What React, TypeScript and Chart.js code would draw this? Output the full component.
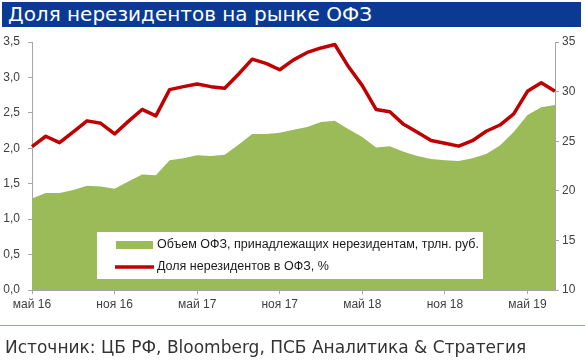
import React, { useEffect, useRef } from "react";
import { Chart, registerables } from "chart.js";

Chart.register(...registerables);

const categories = [
  "май 16", "июн 16", "июл 16", "авг 16", "сен 16", "окт 16",
  "ноя 16", "дек 16", "янв 17", "фев 17", "мар 17", "апр 17",
  "май 17", "июн 17", "июл 17", "авг 17", "сен 17", "окт 17",
  "ноя 17", "дек 17", "янв 18", "фев 18", "мар 18", "апр 18",
  "май 18", "июн 18", "июл 18", "авг 18", "сен 18", "окт 18",
  "ноя 18", "дек 18", "янв 19", "фев 19", "мар 19", "апр 19",
  "май 19", "июн 19", "июл 19",
];

const volumeTrln = [
  1.29, 1.37, 1.37, 1.41, 1.47, 1.46, 1.43, 1.53, 1.63, 1.62,
  1.83, 1.86, 1.90, 1.89, 1.91, 2.05, 2.20, 2.20, 2.22, 2.26,
  2.30, 2.37, 2.39, 2.27, 2.16, 2.01, 2.03, 1.95, 1.89, 1.85,
  1.83, 1.82, 1.86, 1.92, 2.04, 2.23, 2.47, 2.58, 2.61,
];

const sharePct = [
  24.45, 25.5, 24.85, 25.95, 27.05, 26.8, 25.73, 27.0, 28.2, 27.55,
  30.2, 30.5, 30.77, 30.5, 30.33, 31.75, 33.27, 32.85, 32.2, 33.2,
  33.95, 34.4, 34.75, 32.5, 30.6, 28.2, 27.97, 26.7, 25.9, 25.07,
  24.8, 24.5, 25.05, 26.0, 26.63, 27.75, 30.03, 30.9, 30.03,
];

const volumeLabel = "Объем ОФЗ, принадлежащих нерезидентам, трлн. руб.";
const shareLabel = "Доля нерезидентов в ОФЗ, %";
const titleText = "Доля нерезидентов на рынке ОФЗ";
const sourceText = "Источник: ЦБ РФ, Bloomberg, ПСБ Аналитика & Стратегия";

const GREEN = "#9BBB59";
const RED = "#C00000";
const AXIS = "#A6A6A6";
const TICK_TEXT = "#404040";
const FONT = "'Liberation Sans', Arial, sans-serif";

const legendPlugin = {
  id: "boxLegend",
  afterDatasetsDraw(chart: any) {
    const { ctx, chartArea } = chart;
    const x = chartArea.left + 65;
    const y = chartArea.top + 190;
    const w = 386;
    const h = 47;
    ctx.save();
    ctx.fillStyle = "#FFFFFF";
    ctx.fillRect(x, y, w, h);
    const ds = chart.data.datasets;
    const entries = [ds[1], ds[0]];
    ctx.font = "12.5px " + FONT;
    ctx.textBaseline = "middle";
    entries.forEach((d: any, i: number) => {
      const cy = y + 13 + i * 22;
      if (d.fill) {
        ctx.fillStyle = d.backgroundColor;
        ctx.fillRect(x + 19, cy - 4, 37, 8);
      } else {
        ctx.strokeStyle = d.borderColor;
        ctx.lineWidth = 3.5;
        ctx.beginPath();
        ctx.moveTo(x + 18, cy);
        ctx.lineTo(x + 57, cy);
        ctx.stroke();
      }
      ctx.fillStyle = "#1a1a1a";
      ctx.fillText(d.label, x + 60, cy);
    });
    ctx.restore();
  },
};

export default function App() {
  const ref = useRef<HTMLCanvasElement | null>(null);

  useEffect(() => {
    if (!ref.current) return;
    const chart = new Chart(ref.current, {
      type: "line",
      data: {
        labels: categories,
        datasets: [
          {
            label: shareLabel,
            data: sharePct,
            yAxisID: "y2",
            borderColor: RED,
            borderWidth: 3.5,
            pointRadius: 0,
            tension: 0,
            fill: false,
            order: 0,
            borderJoinStyle: "round",
          },
          {
            label: volumeLabel,
            data: volumeTrln,
            yAxisID: "y",
            backgroundColor: GREEN,
            borderColor: GREEN,
            borderWidth: 0,
            pointRadius: 0,
            tension: 0,
            fill: "origin",
            order: 1,
          },
        ],
      },
      options: {
        responsive: false,
        animation: false,
        layout: { padding: { top: 42, bottom: 41, left: 0, right: 0 } },
        plugins: {
          legend: { display: false },
          tooltip: { enabled: false },
          title: { display: false },
        },
        scales: {
          x: {
            type: "category",
            offset: false,
            grid: {
              offset: false,
              drawOnChartArea: false,
              drawTicks: true,
              tickLength: 4,
              color: AXIS,
            },
            border: { display: true, color: AXIS, width: 1 },
            ticks: {
              autoSkip: false,
              maxRotation: 0,
              padding: 3,
              color: TICK_TEXT,
              font: { family: FONT, size: 12 },
              callback: (_v: any, i: number) => (i % 6 === 0 ? categories[i] : null),
            },
            afterFit: (s: any) => {
              s.height = 30;
            },
          },
          y: {
            position: "left",
            min: 0,
            max: 3.5,
            grid: {
              drawOnChartArea: false,
              drawTicks: true,
              tickLength: 4,
              color: AXIS,
            },
            border: { display: true, color: AXIS, width: 1 },
            ticks: {
              stepSize: 0.5,
              padding: 8,
              color: TICK_TEXT,
              font: { family: FONT, size: 12 },
              callback: (v: any) => Number(v).toFixed(1).replace(".", ","),
            },
            afterFit: (s: any) => {
              s.width = 32;
            },
          },
          y2: {
            position: "right",
            min: 10,
            max: 35,
            grid: {
              drawOnChartArea: false,
              drawTicks: true,
              tickLength: 4,
              color: AXIS,
            },
            border: { display: true, color: AXIS, width: 1 },
            ticks: {
              stepSize: 5,
              padding: 3,
              color: TICK_TEXT,
              font: { family: FONT, size: 12 },
            },
            afterFit: (s: any) => {
              s.width = 30;
            },
          },
        },
      },
      plugins: [legendPlugin],
    });
    return () => chart.destroy();
  }, []);

  return (
    <div
      style={{
        position: "absolute",
        left: 0,
        top: 0,
        width: 585,
        height: 361,
        background: "#FFFFFF",
        overflow: "hidden",
      }}
    >
      <canvas
        ref={ref}
        width={585}
        height={361}
        style={{ position: "absolute", left: 0, top: 0, width: 585, height: 361 }}
      />
      <div
        style={{
          position: "absolute",
          left: 2,
          top: 2,
          width: 579,
          height: 25,
          background: "#0A3A92",
          color: "#FFFFFF",
          fontFamily: "'DejaVu Sans', Verdana, sans-serif",
          fontSize: 20,
          lineHeight: "25px",
          paddingLeft: 6,
          boxSizing: "border-box",
          whiteSpace: "nowrap",
        }}
      >
        {titleText}
      </div>
      <div
        style={{
          position: "absolute",
          left: 0,
          top: 325,
          width: 585,
          height: 1,
          background: "#F08A4B",
        }}
      />
      <div
        style={{
          position: "absolute",
          left: 5,
          top: 337,
          color: "#333333",
          fontFamily: "'DejaVu Sans', Verdana, sans-serif",
          fontSize: 17,
          lineHeight: "20px",
          whiteSpace: "nowrap",
        }}
      >
        {sourceText}
      </div>
    </div>
  );
}
